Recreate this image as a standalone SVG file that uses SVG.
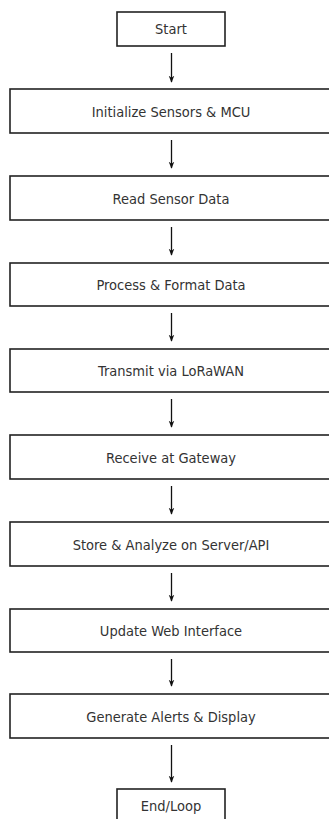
<svg xmlns="http://www.w3.org/2000/svg" width="329" height="819" viewBox="0 0 329 819">
<style>
.box{fill:#fff;stroke:#222;stroke-width:1.6}
.t{font-family:"DejaVu Sans Condensed","DejaVu Sans",sans-serif;font-stretch:condensed;font-size:14.5px;fill:#333;text-anchor:middle}
.c{stroke:#111;stroke-width:1.3;fill:none}
</style>
<defs>
<marker id="ah" viewBox="0 0 10 10" refX="9" refY="5" markerWidth="7" markerHeight="7" markerUnits="userSpaceOnUse" orient="auto">
<path d="M0,1 L10,5 L0,9 L3,5 Z" fill="#111"/>
</marker>
</defs>
<rect width="329" height="819" fill="#fff"/>
<g id="connectors">
<line class="c" x1="171.5" y1="53" x2="171.5" y2="82" marker-end="url(#ah)"/>
<line class="c" x1="171.5" y1="140" x2="171.5" y2="168" marker-end="url(#ah)"/>
<line class="c" x1="171.5" y1="227" x2="171.5" y2="255" marker-end="url(#ah)"/>
<line class="c" x1="171.5" y1="313" x2="171.5" y2="341" marker-end="url(#ah)"/>
<line class="c" x1="171.5" y1="399" x2="171.5" y2="427" marker-end="url(#ah)"/>
<line class="c" x1="171.5" y1="486" x2="171.5" y2="514" marker-end="url(#ah)"/>
<line class="c" x1="171.5" y1="573" x2="171.5" y2="601" marker-end="url(#ah)"/>
<line class="c" x1="171.5" y1="659" x2="171.5" y2="686" marker-end="url(#ah)"/>
<line class="c" x1="171.5" y1="745" x2="171.5" y2="782" marker-end="url(#ah)"/>
</g>
<g id="start"><rect class="box" x="117" y="12" width="108" height="34"/><text class="t" x="171" y="34">Start</text></g>
<g id="init"><rect class="box" x="10" y="89" width="325" height="44"/><text class="t" x="171" y="116.5">Initialize Sensors &amp; MCU</text></g>
<g id="read"><rect class="box" x="10" y="176" width="325" height="44"/><text class="t" x="171" y="203.5">Read Sensor Data</text></g>
<g id="process"><rect class="box" x="10" y="263" width="325" height="43"/><text class="t" x="171" y="290">Process &amp; Format Data</text></g>
<g id="transmit"><rect class="box" x="10" y="349" width="325" height="43"/><text class="t" x="171" y="376">Transmit via LoRaWAN</text></g>
<g id="receive"><rect class="box" x="10" y="435" width="325" height="44"/><text class="t" x="171" y="462.5">Receive at Gateway</text></g>
<g id="store"><rect class="box" x="10" y="522" width="325" height="44"/><text class="t" x="171" y="549.5">Store &amp; Analyze on Server/API</text></g>
<g id="update"><rect class="box" x="10" y="609" width="325" height="43"/><text class="t" x="171" y="636">Update Web Interface</text></g>
<g id="generate"><rect class="box" x="10" y="694" width="325" height="44"/><text class="t" x="171" y="721.5">Generate Alerts &amp; Display</text></g>
<g id="end"><rect class="box" x="117" y="789" width="108" height="40"/><text class="t" x="171" y="811">End/Loop</text></g>
</svg>
